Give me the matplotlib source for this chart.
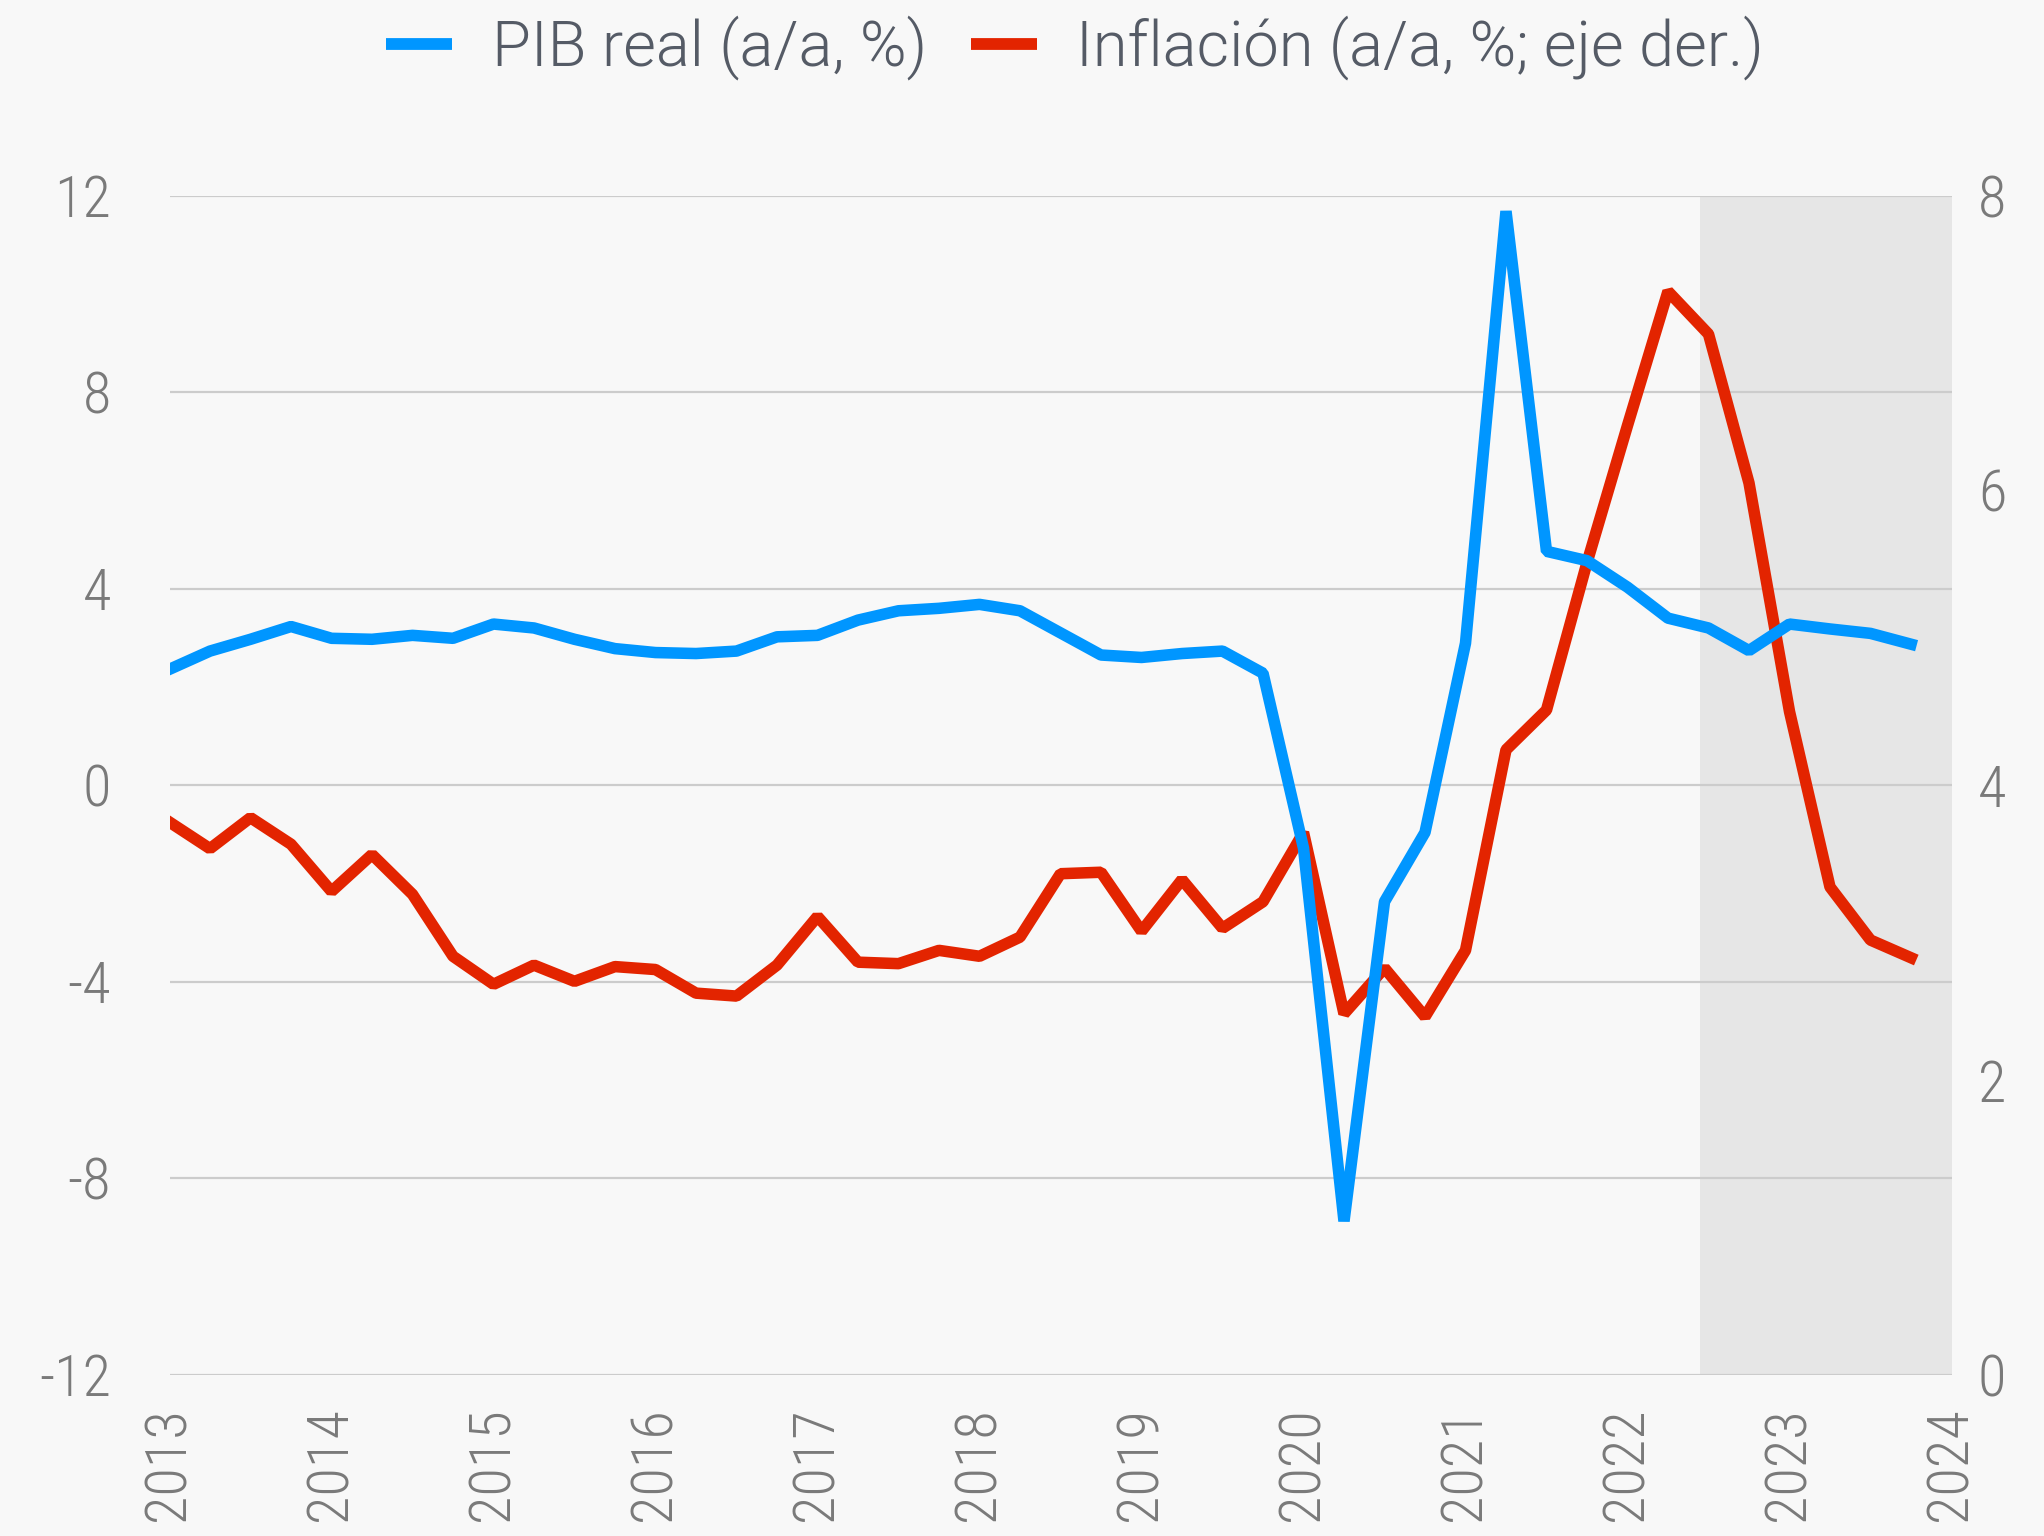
import matplotlib
matplotlib.use("Agg")
import matplotlib.pyplot as plt
import numpy as np

# quarterly data, 2013 Q1 .. 2023 Q4
pib = [2.36, 2.73, 2.97, 3.23, 2.99, 2.97, 3.05, 2.99,
       3.28, 3.20, 2.97, 2.78, 2.70, 2.68, 2.73, 3.02,
       3.05, 3.36, 3.55, 3.60, 3.68, 3.55, 3.10, 2.65,
       2.60, 2.68, 2.73, 2.28, -1.28, -8.87, -2.37, -0.96,
       2.89, 11.68, 4.76, 4.57, 4.03, 3.40, 3.20, 2.74,
       3.28, 3.18, 3.09, 2.87]
inflacion = [3.75, 3.57, 3.78, 3.60, 3.28, 3.53, 3.26, 2.84,
             2.65, 2.78, 2.67, 2.77, 2.75, 2.59, 2.57, 2.78,
             3.11, 2.80, 2.79, 2.88, 2.84, 2.97, 3.40, 3.41,
             3.01, 3.36, 3.03, 3.21, 3.68, 2.45, 2.76, 2.43,
             2.88, 4.24, 4.51, 5.51, 6.44, 7.35, 7.06, 6.05,
             4.50, 3.31, 2.95, 2.83]
fechas = 2013 + np.arange(len(pib)) / 4
years = list(range(2013, 2025))
left_ticks = [-12, -8, -4, 0, 4, 8, 12]
right_ticks = [0, 2, 4, 6, 8]
shade_start = 2022.45

bg = "#f8f8f8"
blue = "#0096ff"
red = "#e32400"
tick_color = "#7a7a7a"
plt.rcParams["font.family"] = ["Roboto Condensed", "Lato", "DejaVu Sans"]
plt.rcParams["font.weight"] = 300

W, H = 2044, 1536
fig = plt.figure(figsize=(W / 100, H / 100), dpi=100, facecolor=bg)
rect = [169.5 / W, 1 - 1375 / H, (1951.5 - 169.5) / W, (1375 - 195.5) / H]

ax = fig.add_axes(rect)
ax.set_facecolor(bg)
ax.set_xlim(2013, 2024)
ax.set_ylim(-12, 12)
ax.axvspan(shade_start, 2024, color="#e6e6e6", zorder=0, lw=0)
for v in left_ticks:
    ax.axhline(v, color="#cccccc", lw=1.6, zorder=1)
ax.set_yticks(left_ticks)
ax.set_yticklabels([str(v) for v in left_ticks])
ax.set_xticks(years)
ax.set_xticklabels([str(y) for y in years], rotation=90)
ax.tick_params(axis="y", length=0, pad=42, labelsize=42, labelcolor=tick_color)
ax.tick_params(axis="x", length=0, pad=23, labelsize=42, labelcolor=tick_color)
for s in ax.spines.values():
    s.set_visible(False)

ax2 = ax.twinx()
ax2.set_ylim(0, 8)
ax2.set_yticks(right_ticks)
ax2.plot(fechas, inflacion, color=red, lw=8.3, solid_joinstyle="bevel")
ax2.tick_params(axis="y", length=0, pad=19, labelsize=42, labelcolor=tick_color)
for s in ax2.spines.values():
    s.set_visible(False)

# blue line on top
ax3 = fig.add_axes(rect, sharex=ax, sharey=ax)
ax3.patch.set_visible(False)
ax3.axis("off")
ax3.plot(fechas, pib, color=blue, lw=8.3, solid_joinstyle="bevel")

h1, = ax3.plot([], [], color=blue, lw=8.5, solid_capstyle="butt")
h2, = ax3.plot([], [], color=red, lw=8.5, solid_capstyle="butt")
leg = fig.legend([h1, h2], ["PIB real (a/a, %)", "Inflación (a/a, %; eje der.)"],
                 loc="center", bbox_to_anchor=(0.526, 1 - 48 / H), ncol=2, frameon=False,
                 prop={"family": ["Roboto", "DejaVu Sans"], "size": 45.5, "weight": 300},
                 handlelength=1.05, handletextpad=0.62, columnspacing=0.7)
for t in leg.get_texts():
    t.set_color("#555b66")

fig.savefig("out.png", dpi=100, facecolor=bg)
